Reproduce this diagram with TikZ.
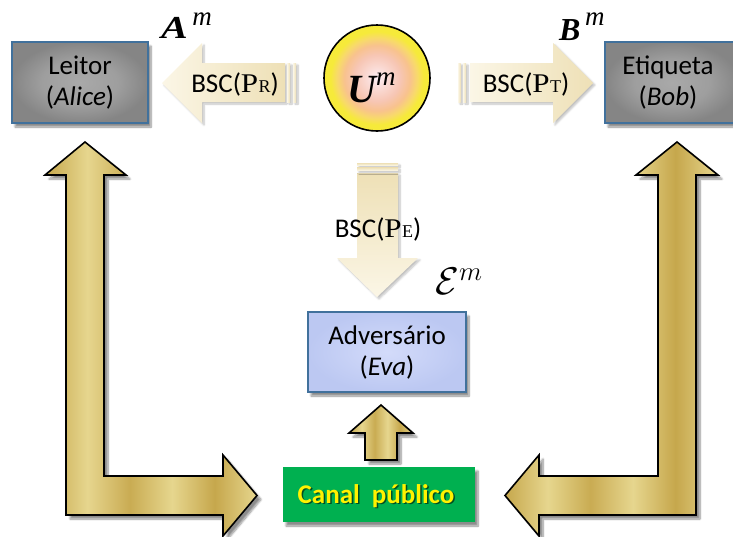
\documentclass[tikz,border=0pt]{standalone}
\usepackage{fontspec}
\setmainfont{Carlito}
\newfontfamily\timesf{Liberation Serif}
\usetikzlibrary{shadows.blur}

\definecolor{boxedge}{HTML}{41719C}
\definecolor{greyin}{HTML}{A9A9A9}
\definecolor{greyout}{HTML}{858585}
\definecolor{lavin}{HTML}{D3DBFA}
\definecolor{lavout}{HTML}{BCC8F2}
\definecolor{canalgreen}{HTML}{00B050}
\definecolor{goldA}{HTML}{C6A74C}
\definecolor{goldB}{HTML}{E6D68E}
\definecolor{creamA}{HTML}{FBF6E6}
\definecolor{creamB}{HTML}{EEE0B6}
\definecolor{sunC}{HTML}{FDEFF6}
\definecolor{sunM}{HTML}{F7C6B4}
\definecolor{sunO}{HTML}{F8C28E}
\definecolor{sunR}{HTML}{F8DA6A}
\definecolor{sunE}{HTML}{F6EA3A}

% shadings (the path fills the central 50bp square)
\pgfdeclareradialshading{greybox}{\pgfpoint{0bp}{0bp}}{%
  color(0bp)=(greyin); color(14bp)=(greyin!70!greyout); color(25bp)=(greyout); color(50bp)=(greyout)}
\pgfdeclareradialshading{lavbox}{\pgfpoint{0bp}{0bp}}{%
  color(0bp)=(lavin); color(25bp)=(lavout); color(50bp)=(lavout)}
\pgfdeclareradialshading{sunglow}{\pgfpoint{0bp}{0bp}}{%
  color(0bp)=(sunC); color(5bp)=(sunC!50!sunM);
  color(11bp)=(sunM); color(15.5bp)=(sunO); color(19bp)=(sunR); color(22bp)=(sunE); color(25bp)=(sunE); color(50bp)=(sunE)}
\pgfdeclarehorizontalshading{goldsh}{100bp}{%
  color(0bp)=(goldA); color(25bp)=(goldA); color(35bp)=(goldB); color(45bp)=(goldA!90!goldB);
  color(55bp)=(goldB); color(65bp)=(goldA); color(75bp)=(goldB); color(100bp)=(goldB)}

\newcommand{\bscl}[1]{BSC({\timesf\scalebox{1.15}[1]{P}\kern0.3pt{\fontsize{18}{18}\selectfont #1}})}

\tikzset{
  party/.style={draw=boxedge, line width=1.4pt, shading=greybox,
    minimum width=136pt, minimum height=81pt, align=center,
    font=\fontsize{27}{31}\selectfont,
    blur shadow={shadow xshift=3pt, shadow yshift=-4pt, shadow blur steps=8, shadow opacity=45}},
  goldarrow/.style={draw=black, line width=1.6pt, line join=miter, shading=goldsh, shading angle=0,
    blur shadow={shadow xshift=4pt, shadow yshift=-4pt, shadow blur steps=8, shadow opacity=45}},
  creamarrow/.style={draw=none, left color=creamA, right color=creamB,
    blur shadow={shadow xshift=2pt, shadow yshift=-2pt, shadow blur steps=6, shadow opacity=25}},
  creamdown/.style={draw=none, top color=creamB, bottom color=creamA,
    blur shadow={shadow xshift=2pt, shadow yshift=-2pt, shadow blur steps=6, shadow opacity=25}},
  chanlabel/.style={font=\fontsize{27}{27}\selectfont, inner sep=0pt},
  supbig/.style={inner sep=0pt, font=\timesf\fontsize{32}{32}\selectfont},
}

\begin{document}
\begin{tikzpicture}[x=1pt,y=-1pt]
\useasboundingbox (0,0) rectangle (733,536);

% --- parties
\node[party] (alice) at (80,82.5) {Leitor\\(\textit{Alice})};
\node[party, minimum width=134pt] (bob) at (672,82.5) {\hspace*{-8pt}Etiqueta\\\hspace*{-8pt}(\textit{Bob})};
\node[party, shading=lavbox, minimum width=158pt, minimum height=80pt] (eve) at (387,352) {Advers\'ario\\(\textit{Eva})};

% --- source
\node[circle, draw=black, line width=1.6pt, shading=sunglow, minimum size=106pt, inner sep=0pt] (src) at (377,78) {};
\node[inner sep=0pt, anchor=base west] (srclbl) at (347,102)
  {\timesf\fontsize{40}{40}\selectfont\bfseries\itshape U\normalfont\timesf\itshape\fontsize{27}{27}\selectfont\raisebox{17pt}{m}};

% --- public channel
\node[fill=canalgreen, minimum width=192pt, minimum height=55pt,
  blur shadow={shadow xshift=3pt, shadow yshift=-4pt, shadow blur steps=8, shadow opacity=45}] (canal) at (379,494.5) {};
\node[text=black, opacity=0.55, font=\bfseries\fontsize{27}{27}\selectfont] (canalsh) at (377.5,497.5) {Canal\ \ p\'ublico};
\node[text=yellow, font=\bfseries\fontsize{27}{27}\selectfont] (canaltxt) at (376,496) {Canal\ \ p\'ublico};

% --- BSC channels (cream block arrows)
\path[creamarrow] (162,83) -- (202,43) -- (202,63) -- (285,63) -- (285,102) -- (202,102) -- (202,123) -- cycle;
\path[creamarrow] (287,63) rectangle (290,102);
\path[creamarrow] (293,63) rectangle (296,102);
\node[chanlabel] (bscr) at (235,84) {\bscl{R}};

\path[creamarrow] (593,83) -- (553,43) -- (553,63) -- (470,63) -- (470,102) -- (553,102) -- (553,123) -- cycle;
\path[creamarrow] (458,63) rectangle (460.5,102);
\path[creamarrow] (463,63) rectangle (466,102);
\node[chanlabel] (bsct) at (526,84) {\bscl{T}};

\path[creamdown] (377,297) -- (337,258) -- (357,258) -- (357,173) -- (398,173) -- (398,258) -- (418,258) -- cycle;
\path[creamdown] (357,163) rectangle (398,165.5);
\path[creamdown] (357,167.5) rectangle (398,170.5);
\node[chanlabel] (bsce) at (378,229) {\bscl{E}};

% --- received sequences
\node[supbig, anchor=base west] (am) at (161,38.5)
  {\bfseries\itshape \scalebox{1.25}[1]{A}\normalfont\timesf\itshape\fontsize{27}{27}\selectfont\,\raisebox{13pt}{m}};
\node[supbig, anchor=base west] (bm) at (559,40)
  {\bfseries\itshape B\normalfont\timesf\itshape\fontsize{27}{27}\selectfont\,\raisebox{15pt}{m}};
\node[inner sep=0pt, anchor=base west, font=\fontsize{24}{24}\selectfont] (em) at (435,294) {\scalebox{1.55}{$\mathcal{E}^{m}$}};

% --- public discussion (gold block arrows)
\path[goldarrow] (85,142) -- (126,175) -- (104,175) -- (104,476) -- (223,476) -- (223,455)
  -- (257,495.5) -- (223,536) -- (223,515) -- (66,515) -- (66,175) -- (45,175) -- cycle;
\path[goldarrow] (677,142) -- (718,175) -- (696,175) -- (696,515) -- (539,515) -- (539,536)
  -- (505,495.5) -- (539,455) -- (539,476) -- (658,476) -- (658,175) -- (636,175) -- cycle;
\path[goldarrow] (381,405) -- (413,433) -- (397,433) -- (397,460) -- (365,460) -- (365,433) -- (349,433) -- cycle;
\end{tikzpicture}
\end{document}
